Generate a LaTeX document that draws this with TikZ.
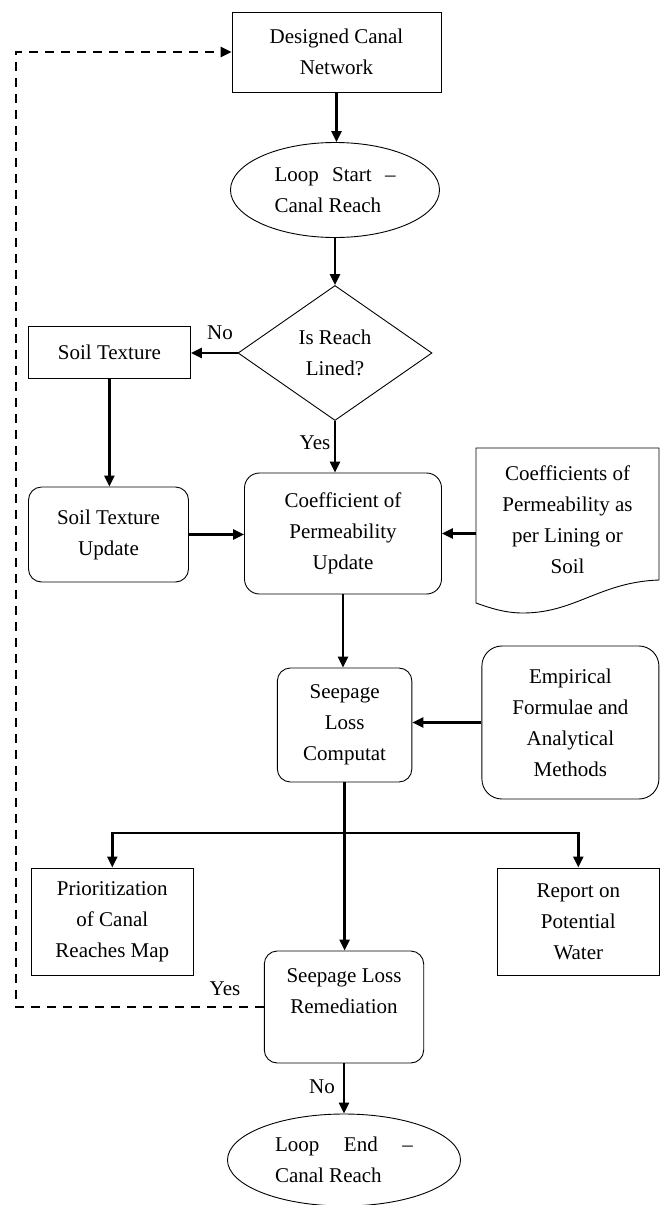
\documentclass[tikz,border=0pt]{standalone}
\usepackage{fontspec}
\setmainfont{Liberation Serif}
\usetikzlibrary{shapes.geometric,arrows.meta}
\begin{document}
\begin{tikzpicture}[x=1pt,y=-1pt,
  every node/.style={font=\fontsize{21}{31}\selectfont, inner sep=0pt, align=center},
  sq/.style={draw, line width=0.9pt},
  rnd/.style={draw, line width=0.9pt, rounded corners=13pt},
  oval/.style={draw, ellipse, line width=0.9pt},
  dec/.style={draw, diamond, line width=0.9pt},
  arr/.style={line width=2.4pt, -{Triangle[width=10pt,length=11pt]}},
  fbk/.style={line width=2.4pt, dash pattern=on 9pt off 7pt, -{Triangle[width=10pt,length=11pt]}},
  lbl/.style={font=\fontsize{21}{31}\selectfont}]
\path[use as bounding box, fill=white] (0,0) rectangle (661,1205);

\node[sq, minimum width=209pt, minimum height=80pt] (design) at (336.5,52) {Designed Canal\\Network};
\node[oval, minimum width=209pt, minimum height=95pt, align=left] (start) at (335,190) {\makebox[121pt][s]{Loop Start –}\\Canal Reach};
\node[dec, minimum width=194pt, minimum height=135pt] (dia) at (335,353) {Is Reach\\Lined?};
\node[sq, minimum width=162pt, minimum height=52pt] (soil) at (109.4,352) {Soil Texture};
\node[rnd, minimum width=160pt, minimum height=95pt] (soilup) at (108.5,534.5) {Soil Texture\\Update};
\node[rnd, rounded corners=15pt, minimum width=197pt, minimum height=121pt] (coef) at (343,533.5) {Coefficient of\\Permeability\\Update};
\draw[line width=0.9pt] (476,448) -- (659,448) -- (659,580)
  .. controls (600,582) and (575,613) .. (523,613)
  .. controls (505,613) and (490,608) .. (476,603) -- cycle;
\node[minimum width=183pt] (doc) at (567.5,520) {Coefficients of\\Permeability as\\per Lining or\\Soil};
\node[rnd, minimum width=134.5pt, minimum height=114pt] (comp) at (344.6,725) {Seepage\\Loss\\Computat};
\node[rnd, rounded corners=20pt, minimum width=177pt, minimum height=153pt] (emp) at (570.4,722.5) {Empirical\\Formulae and\\Analytical\\Methods};
\node[sq, minimum width=161.4pt, minimum height=107pt] (prio) at (112.3,921.5) {Prioritization\\of Canal\\Reaches Map};
\node[sq, minimum width=161.5pt, minimum height=107pt] (report) at (578.3,921.5) {Report on\\Potential\\Water};
\node[rnd, minimum width=159.4pt, minimum height=112pt] (rem) at (344,1007) {Seepage Loss\\Remediation\\~};
\node[oval, minimum width=233pt, minimum height=92pt, align=left] (end) at (344,1160) {\makebox[138pt][s]{Loop End –}\\Canal Reach};

\node[lbl] (no1) at (220,333) {No};
\node[lbl] (yes1) at (315,443) {Yes};
\node[lbl] (yes2) at (225,989) {Yes};
\node[lbl] (no2) at (322,1087) {No};

\coordinate (jn) at (344.6,833);
\coordinate (fb) at (16,52);

\draw[arr] (design.south) -- (design.south |- start.north);
\draw[arr] (start.south) -- (dia.north);
\draw[arr] (dia.west) -- (dia.west -| soil.east);
\draw[arr] (soil.south) -- (soil.south |- soilup.north);
\draw[arr] (soilup.east) -- (soilup.east -| coef.west);
\draw[arr] (dia.south) -- (dia.south |- coef.north);
\draw[arr] (doc.west |- coef.east) -- (coef.east);
\draw[arr] (coef.south) -- (coef.south |- comp.north);
\draw[arr] (emp.west) -- (emp.west -| comp.east);
\draw[arr] (comp.south) -- (comp.south |- rem.north);
\draw[arr] (jn) -| (prio.north);
\draw[arr] (jn) -| (report.north);
\draw[arr] (rem.south) -- (rem.south |- end.north);
\draw[fbk] (rem.west) -| (fb) -- (design.west);
\end{tikzpicture}
\end{document}
